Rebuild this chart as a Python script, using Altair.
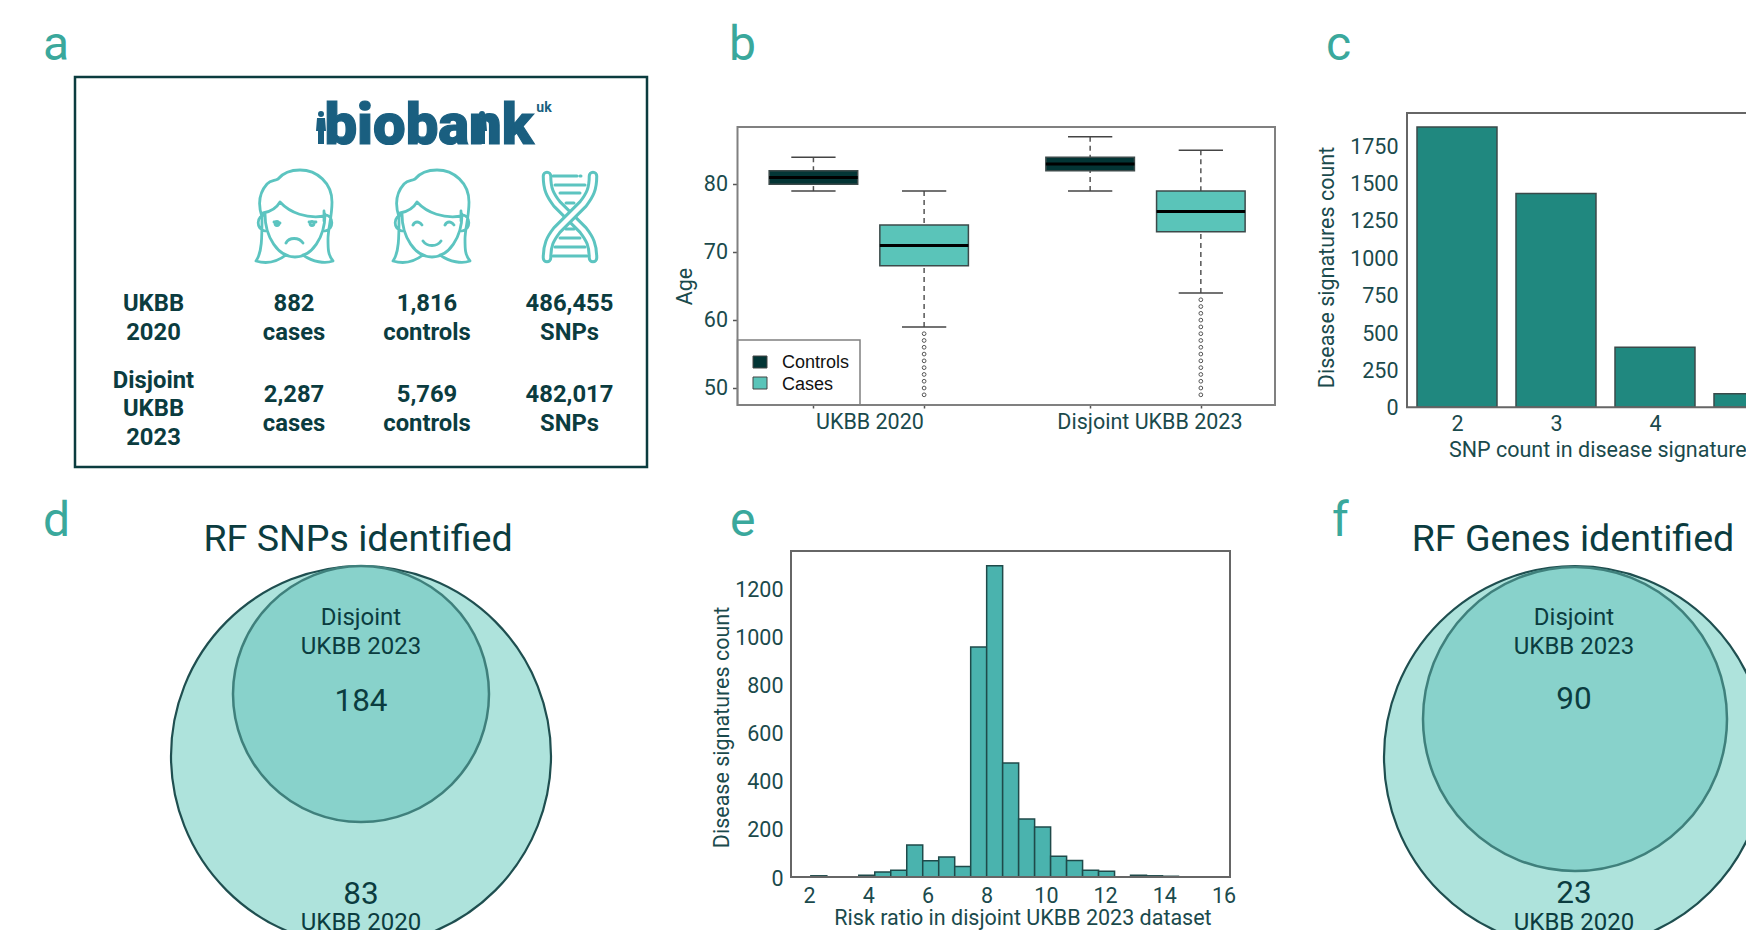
import altair as alt
import pandas as pd

# ---------- values ----------
box_group = ["UKBB 2020", "UKBB 2020", "Disjoint UKBB 2023", "Disjoint UKBB 2023"]
box_kind = ["Controls", "Cases", "Controls", "Cases"]
box_pos = [1, 2, 3.5, 4.5]
box_low = [79, 59, 79, 64]
box_q1 = [80, 68, 82, 73]
box_med = [81, 71, 83, 76]
box_q3 = [82, 74, 84, 79]
box_high = [84, 79, 87, 85]
outliers_2020 = [58, 57, 56, 55, 54, 53, 52, 51, 50, 49]
outliers_2023 = [63, 62, 61, 60, 59, 58, 57, 56, 55, 54, 53, 52, 51, 50, 49]

snp_count = [2, 3, 4, 5]
snp_signatures = [1875, 1431, 401, 91]

rr_left = [2.06, 3.68, 4.22, 4.76, 5.30, 5.84, 6.38, 6.92, 7.46, 8.00, 8.54, 9.08, 9.62,
           10.16, 10.70, 11.24, 11.78, 12.86, 13.40, 13.94]
rr_count = [5, 7, 21, 28, 133, 68, 83, 44, 956, 1294, 474, 241, 208, 86, 69, 28, 24, 7, 5, 3]
RR_BIN = 0.54

# ---------- style ----------
W, H = 1738, 922
OFF = 8
ROBOTO = "Roboto"
INK = "#0b3c3f"
TICK = "#1a4a4c"
LETTER = "#3aa89c"
ICON = "#5cc4c0"
LOGO = "#1a5f80"
FS = 21.5
ONE = alt.Data(values=[{"k": 1}])


def px(v):
    return v - OFF


def text(s, x, y, size, color=INK, weight=400, font=ROBOTO, align="center", baseline="middle", angle=0, **kw):
    return alt.Chart(ONE).mark_text(
        fontSize=size, color=color, fontWeight=weight, font=font, align=align, baseline=baseline, angle=angle, **kw
    ).encode(x=alt.value(px(x)), y=alt.value(px(y)), text=alt.value(s))


def qx(field, dom, a, b, axis=None):
    return alt.X(field, type="quantitative", title=None, axis=axis,
                 scale=alt.Scale(domain=dom, range=[px(a), px(b)], nice=False, zero=False))


def qy(field, dom, bottom, top, axis=None):
    return alt.Y(field, type="quantitative", title=None, axis=axis,
                 scale=alt.Scale(domain=dom, range=[px(bottom), px(top)], nice=False, zero=False))


def icon(path, x, y, stroke=ICON, width=2.8):
    return alt.Chart(ONE).mark_point(shape=path, filled=False, stroke=stroke, strokeWidth=width, size=4, opacity=1,
                                     strokeCap="round", strokeJoin="round").encode(
        x=alt.value(px(x)), y=alt.value(px(y)))


def solid(path, x, y, fill):
    return alt.Chart(ONE).mark_point(shape=path, filled=True, fill=fill, size=4, opacity=1).encode(
        x=alt.value(px(x)), y=alt.value(px(y)))


def frame(xdom, xa, xb, ydom, ybot, ytop, color, width=2):
    df = pd.DataFrame({"x0": [xdom[0]], "x1": [xdom[1]], "y0": [ydom[0]], "y1": [ydom[1]]})
    return alt.Chart(df).mark_rect(fillOpacity=0, stroke=color, strokeWidth=width).encode(
        x=qx("x0", xdom, xa, xb), x2="x1", y=qy("y0", ydom, ybot, ytop), y2="y1")


layers = []

# ---------- panel letters ----------
for s, x, y in [("a", 43, 60), ("b", 729, 60), ("c", 1326, 60), ("d", 43, 536), ("e", 730, 536), ("f", 1332, 536)]:
    layers.append(text(s, x, y, 48, color=LETTER, weight=400, align="left", baseline="alphabetic"))

# ---------- panel a ----------
layers.append(alt.Chart(ONE).mark_rect(fillOpacity=0, stroke=INK, strokeWidth=2.5).encode(
    x=alt.value(px(75)), x2=alt.value(px(647)), y=alt.value(px(77)), y2=alt.value(px(467))))
layers.append(text("biobank", 429, 144, 58, color=LOGO, weight=900, baseline="alphabetic", stroke=LOGO, strokeWidth=1.2))
layers.append(text("uk", 544, 108, 14, color=LOGO, weight=700))
PERSON = "M0,-17 C2,-17 3,-16 3,-14 C3,-12 2,-11 0,-11 C-2,-11 -3,-12 -3,-14 C-3,-16 -2,-17 0,-17 Z M-4,-10 L4,-10 L5,3 L3,3 L3,16 L-3,16 L-3,3 L-5,3 Z"
layers.append(solid(PERSON, 321, 128, LOGO))
layers.append(solid(PERSON, 482, 128, LOGO))

HAIR = ("M-39,44 C-33,36 -33,20 -33,0 C-37,-12 -36,-24 -28,-33 C-24,-37 -20,-36 -17,-38 C-12,-44 -4,-47 5,-47 "
        "C22,-47 37,-34 37,-15 C37,0 33,12 33,22 C33,32 33,38 38,44 C30,47 18,45 8,38 "
        "M-39,44 C-29,47 -18,45 -9,38 "
        "M-30,-3 C-30,20 -17,40 0,40 C17,40 30,20 30,-3 "
        "M-32,-4 C-26,-5 -19,-8 -15,-15 C-5,-4 12,2 30,-1 M29,-6 L29,4 "
        "M-30,-2 C-38,-2 -40,12 -30,14 M30,-2 C38,-2 40,12 30,14 ")
SAD = HAIR + ("M-9,26 C-6,20 4,20 8,26 M-21,5 L-15,6 M14,5 L21,5 "
              "M-20,6.5 a2,2 0 1,0 4,0 a2,2 0 1,0 -4,0 M15,6.5 a2,2 0 1,0 4,0 a2,2 0 1,0 -4,0")
HAPPY = HAIR + "M-9,24 C-5,30 5,30 9,24 M-19,8 C-17,4 -13,4 -10,8 M13,8 C15,4 19,4 22,8"
RUNGS = ("M-17,-41 L7,-41 M10,-41 L11,-41 M-15,-32 L15,-32 M-10,-24 L10,-24 M-4,-14 L4,-14 "
         "M-4,12 L4,12 M-10,21 L10,21 M-15,30 L15,30 M-17,39 L17,39")
STRAND_A = "M-23,-41 C-23,-28 -20,-22 -13,-13 L13,13 C20,22 23,28 23,41"
STRAND_B = "M23,-41 C23,-28 20,-22 13,-13 L-13,13 C-20,22 -23,28 -23,41"
layers.append(icon(SAD, 295, 217))
layers.append(icon(HAPPY, 432, 217))
layers.append(icon(RUNGS, 570, 217, width=3))
for strand in (STRAND_A, STRAND_B):
    layers.append(icon(strand, 570, 217, width=10.5))
    layers.append(icon(strand, 570, 217, stroke="white", width=4.5))

for s, x, y in [("UKBB", 153.5, 304), ("2020", 153.5, 333), ("882", 294, 304), ("cases", 294, 333),
                ("1,816", 427, 304), ("controls", 427, 333), ("486,455", 569.5, 304), ("SNPs", 569.5, 333),
                ("Disjoint", 153.5, 381), ("UKBB", 153.5, 409), ("2023", 153.5, 438),
                ("2,287", 294, 395), ("cases", 294, 424), ("5,769", 427, 395), ("controls", 427, 424),
                ("482,017", 569.5, 395), ("SNPs", 569.5, 424)]:
    layers.append(text(s, x, y, 23.8, weight=700))

# ---------- panel b ----------
B_L, B_R, B_T, B_B = 737.5, 1275, 127, 405
B_XD = [0.314, 5.17]
B_YD = [47.5, 88.44]
box = pd.DataFrame({"group": box_group, "kind": box_kind, "pos": box_pos, "low": box_low, "q1": box_q1,
                    "med": box_med, "q3": box_q3, "high": box_high})
box["xa"] = box["pos"] - 0.4
box["xb"] = box["pos"] + 0.4
box["ca"] = box["pos"] - 0.2
box["cb"] = box["pos"] + 0.2


def bx(f, axis=None):
    return qx(f, B_XD, B_L, B_R, axis)


def by(f, axis=None):
    return qy(f, B_YD, B_B, B_T, axis)


b_yaxis = alt.Axis(orient="left", offset=-px(B_L), values=[50, 60, 70, 80], domain=False, grid=False,
                   tickColor="#555555", tickSize=5, tickWidth=1.5, labelFont=ROBOTO, labelFontSize=FS,
                   labelColor=TICK, labelPadding=5, title="Age", titleFont=ROBOTO, titleFontSize=FS,
                   titleFontWeight=400, titleColor=TICK, titleX=-52, titleY=px(286), titleAngle=270,
                   titleAlign="center", titleBaseline="middle")
b_xaxis = alt.Axis(orient="bottom", offset=-(H - px(B_B)), values=box_pos, domain=False, grid=False, labels=False,
                   tickColor="#555555", tickSize=3, tickWidth=1.5)
layers.append(alt.Chart(box).mark_rule(stroke="#555555", strokeWidth=1.5, strokeDash=[5, 4]).encode(
    x=bx("pos", b_xaxis), y=by("high", b_yaxis), y2="q3"))
layers.append(alt.Chart(box).mark_rule(stroke="#555555", strokeWidth=1.5, strokeDash=[5, 4]).encode(
    x=bx("pos"), y=by("low"), y2="q1"))
layers.append(alt.Chart(box).mark_rule(stroke="#444444", strokeWidth=1.5).encode(x=bx("ca"), x2="cb", y=by("high")))
layers.append(alt.Chart(box).mark_rule(stroke="#444444", strokeWidth=1.5).encode(x=bx("ca"), x2="cb", y=by("low")))
layers.append(alt.Chart(box).mark_rect(stroke="#3c4a4a", strokeWidth=1.5).encode(
    x=bx("xa"), x2="xb", y=by("q1"), y2="q3",
    color=alt.Color("kind:N", legend=None,
                    scale=alt.Scale(domain=["Controls", "Cases"], range=["#033535", "#5ac4b9"]))))
layers.append(alt.Chart(box).mark_rule(stroke="#000000", strokeWidth=3).encode(x=bx("xa"), x2="xb", y=by("med")))
out = pd.DataFrame({"pos": [2] * len(outliers_2020) + [4.5] * len(outliers_2023), "age": outliers_2020 + outliers_2023})
layers.append(alt.Chart(out).mark_point(shape="circle", filled=False, stroke="#555555", strokeWidth=1, size=14, opacity=1).encode(
    x=bx("pos"), y=by("age")))
layers.append(frame(B_XD, B_L, B_R, B_YD, B_B, B_T, "#808080"))
layers.append(alt.Chart(ONE).mark_rect(fillOpacity=0, stroke="#808080", strokeWidth=1.5).encode(
    x=alt.value(px(B_L)), x2=alt.value(px(860)), y=alt.value(px(340)), y2=alt.value(px(B_B))))
for col, yt in [("#033535", 356), ("#5ac4b9", 377)]:
    layers.append(alt.Chart(ONE).mark_rect(fill=col, stroke="#444444", strokeWidth=1).encode(
        x=alt.value(px(753)), x2=alt.value(px(767)), y=alt.value(px(yt)), y2=alt.value(px(yt + 12))))
layers.append(text("Controls", 782, 363, 18, color="#111111", font="Liberation Sans", align="left"))
layers.append(text("Cases", 782, 385, 18, color="#111111", font="Liberation Sans", align="left"))
glab = pd.DataFrame({"pos": [1.51, 4.04], "name": ["UKBB 2020", "Disjoint UKBB 2023"]})
layers.append(alt.Chart(glab).mark_text(font=ROBOTO, fontSize=FS, color=TICK, baseline="middle").encode(
    x=bx("pos"), y=alt.value(px(423)), text="name:N"))

# ---------- panel c ----------
C_L, C_T, C_B = 1407, 113, 407.3
C_PITCH = 99
C_XD = [1.495, 7.0]
C_R = C_L + (C_XD[1] - C_XD[0]) * C_PITCH
C_YD = [0, 1969]
c_df = pd.DataFrame({"snp": snp_count, "n": snp_signatures})
c_df["xa"] = c_df["snp"] - 0.404
c_df["xb"] = c_df["snp"] + 0.404
c_df["base"] = 0
c_xaxis = alt.Axis(orient="bottom", offset=-(H - px(C_B)), values=snp_count, domain=False, grid=False, ticks=False,
                   labelFont=ROBOTO, labelFontSize=FS, labelColor=TICK, labelPadding=6, labelFlush=False,
                   format="d")
c_yaxis = alt.Axis(orient="left", offset=-px(C_L), values=[0, 250, 500, 750, 1000, 1250, 1500, 1750], domain=False,
                   grid=False, ticks=False, labelFont=ROBOTO, labelFontSize=FS, labelColor=TICK, labelPadding=9,
                   labelOffset=1.5, format="d", title="Disease signatures count", titleFont=ROBOTO, titleFontSize=FS,
                   titleFontWeight=400, titleColor=TICK, titleX=-80, titleY=px(267), titleAngle=270,
                   titleAlign="center", titleBaseline="middle")
layers.append(alt.Chart(c_df).mark_rect(fill="#20887f", stroke="#3a4a4a", strokeWidth=1.5).encode(
    x=qx("xa", C_XD, C_L, C_R, c_xaxis), x2="xb", y=qy("n", C_YD, C_B, C_T, c_yaxis), y2="base"))
layers.append(frame(C_XD, C_L, C_R, C_YD, C_B, C_T, "#666666"))
layers.append(text("SNP count in disease signatures", 1449, 450.5, FS, color=TICK, align="left"))

# ---------- panel e ----------
E_L, E_R, E_T, E_B = 791, 1230, 551, 877
E_XD = [1.39, 16.22]
E_YD = [0, 1355]
e_df = pd.DataFrame({"lo": rr_left, "n": rr_count})
e_df["hi"] = e_df["lo"] + RR_BIN
e_df["base"] = 0
e_xaxis = alt.Axis(orient="bottom", offset=-(H - px(E_B)), values=[2, 4, 6, 8, 10, 12, 14, 16], domain=False,
                   grid=False, ticks=False, labelFont=ROBOTO, labelFontSize=FS, labelColor=TICK, labelPadding=8,
                   labelFlush=False, format="d")
e_yaxis = alt.Axis(orient="left", offset=-px(E_L), values=[0, 200, 400, 600, 800, 1000, 1200], domain=False,
                   grid=False, ticks=False, labelFont=ROBOTO, labelFontSize=FS, labelColor=TICK, labelPadding=8,
                   labelOffset=2, format="d", title="Disease signatures count", titleFont=ROBOTO, titleFontSize=FS,
                   titleFontWeight=400, titleColor=TICK, titleX=-69, titleY=px(727), titleAngle=270,
                   titleAlign="center", titleBaseline="middle")
layers.append(alt.Chart(e_df).mark_rect(fill="#4ab3ae", stroke="#1f4a4a", strokeWidth=1.5).encode(
    x=qx("lo", E_XD, E_L, E_R, e_xaxis), x2="hi", y=qy("n", E_YD, E_B, E_T, e_yaxis), y2="base"))
layers.append(frame(E_XD, E_L, E_R, E_YD, E_B, E_T, "#666666"))
layers.append(text("Risk ratio in disjoint UKBB 2023 dataset", 1023, 919, FS, color=TICK))


# ---------- panels d and f ----------
def venn(title, title_x, cx, cy, r, inner_y, inner_r, text_x, n_in, n_out, y_in, y_out):
    sets = pd.DataFrame({"u": [0.0, 0.0], "v": [0.0, inner_y], "name": ["UKBB 2020", "Disjoint UKBB 2023"]})
    xs = qx("u", [-1, 1], cx - r, cx + r)
    ys = qy("v", [-1, 1], cy + r, cy - r)
    res = [
        alt.Chart(sets[sets["name"] == "UKBB 2020"]).mark_circle(
            fill="#aee3dc", stroke="#1f4f50", strokeWidth=2.2, opacity=1).encode(
            x=xs, y=ys, size=alt.value((2 * r) ** 2)),
        alt.Chart(sets[sets["name"] != "UKBB 2020"]).mark_circle(
            fill="#88d2cb", stroke="#3f807c", strokeWidth=2.5, opacity=1).encode(
            x=xs, y=ys, size=alt.value((2 * inner_r) ** 2)),
        text(title, title_x, 540, 37.6),
        text("Disjoint", text_x, 618, 24),
        text("UKBB 2023", text_x, 647, 24),
        text(n_in, text_x, y_in, 31.5),
        text(n_out, text_x, y_out, 31.5),
        text("UKBB 2020", text_x, 922.5, 24),
    ]
    return res


layers += venn("RF SNPs identified", 358, 361, 756, 190, 0.326, 128, 361, "184", "83", 701.5, 895)
layers += venn("RF Genes identified", 1573, 1575, 757, 191, 0.199, 152, 1574, "90", "23", 700, 894)

chart = alt.layer(*layers).resolve_scale(x="independent", y="independent").resolve_axis(
    x="independent", y="independent"
).properties(width=W, height=H, padding=0, autosize=alt.AutoSizeParams(type="none"), background="white"
).configure_view(stroke=None)

chart.save("out.html", embed_options={"renderer": "svg", "actions": False})
